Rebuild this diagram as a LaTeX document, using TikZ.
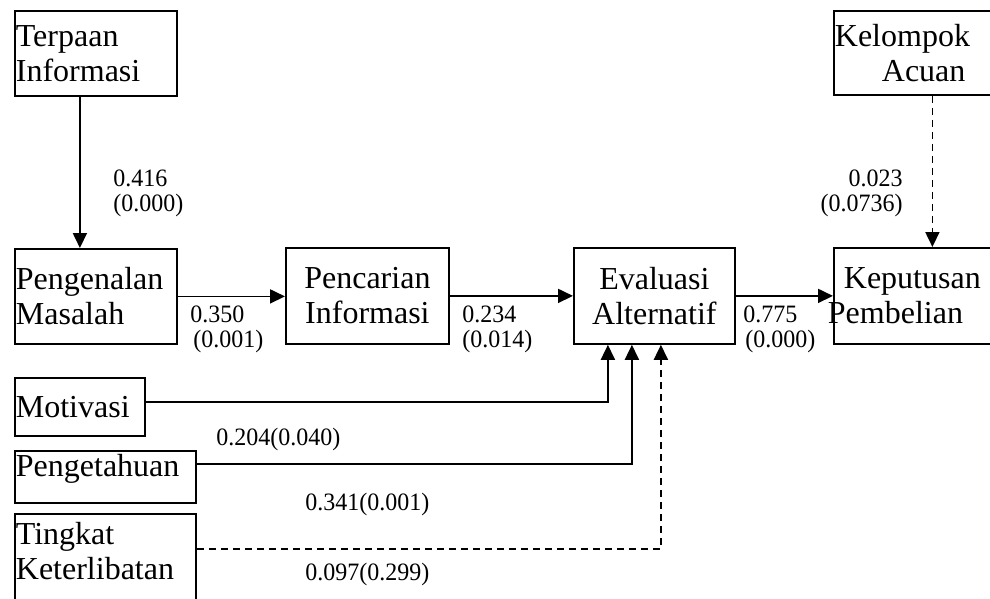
\documentclass[tikz,border=0pt]{standalone}
\usepackage{fontspec}
\newfontfamily\hurufkotak{Liberation Serif}
\newfontfamily\hurufangka[FakeStretch=0.96]{Liberation Serif}
\usepackage{tikz}
\usetikzlibrary{arrows.meta}

\begin{document}
\begin{tikzpicture}
[
    x = 0.5pt, y = -0.5pt,
    kotak/.style = {draw, line width = 0.9pt, anchor = north west, inner xsep = 0.5pt, inner ysep = 0pt, align = left, font = \hurufkotak\fontsize{16}{17.5}\selectfont},
    angka/.style = {anchor = north west, inner sep = 0pt, align = left, font = \hurufangka\fontsize{12.5}{12.5}\selectfont},
    panah/.style = {line width = 0.9pt, -{Triangle[length = 7.5pt, width = 7pt]}},
    putus/.style = {dash pattern = on 3.5pt off 2.5pt}]

\useasboundingbox (0,0) rectangle (990,599);

\node[kotak, text width = 80pt, minimum height = 42.5pt] (terpaan) at (14,10) {Terpaan\\Informasi};
\node[kotak, text width = 97.5pt, minimum height = 42pt] (kelompok) at (833,10) {Kelompok\\\hspace*{23.5pt}Acuan};
\node[kotak, text width = 80pt, minimum height = 47.5pt] (pengenalan) at (14,248) {Pengenalan\\Masalah};
\node[kotak, text width = 80.5pt, minimum height = 48pt, align = center] (pencarian) at (285,247) {Pencarian\\Informasi};
\node[kotak, text width = 79.5pt, minimum height = 48pt, align = center] (evaluasi) at (573,247) {Evaluasi\\Alternatif};
\node[kotak, text width = 97.5pt, minimum height = 48pt] (keputusan) at (833,247) {\hspace*{4.5pt}Keputusan\\\hspace*{-3.5pt}Pembelian};
\node[kotak, text width = 64pt, minimum height = 29pt] (motivasi) at (14,377) {Motivasi};
\node[kotak, text width = 89.5pt, minimum height = 26pt, text depth = 12pt] (pengetahuan) at (14,450) {Pengetahuan};
\node[kotak, text width = 89.5pt, minimum height = 51pt, text depth = 32pt] (tingkat) at (14,513) {Tingkat\\Keterlibatan};

\draw[panah] ([xshift = -8pt]terpaan.south) -- ([xshift = -8pt]pengenalan.north);
\draw[panah, putus] (kelompok.south) -- (keputusan.north);
\draw[panah] (pengenalan.east) -- (pengenalan.east -| pencarian.west);
\draw[panah] (pencarian.east) -- (evaluasi.west);
\draw[panah] (evaluasi.east) -- (keputusan.west);
\draw[panah] ([yshift = 2.5pt]motivasi.east) -| ([xshift = -23.25pt]evaluasi.south);
\draw[panah] ([yshift = 6.5pt]pengetahuan.east) -| ([xshift = -11.25pt]evaluasi.south);
\draw[panah, putus] ([yshift = 8pt]tingkat.east) -| ([xshift = 3.25pt]evaluasi.south);

\node[angka] (l416) at (113,169) {0.416\\(0.000)};
\node[angka, anchor = north east, align = right] (l023) at (903,169) {0.023\\(0.0736)};
\node[angka] (l350) at (190,305) {0.350\\\hspace*{1.5pt}(0.001)};
\node[angka] (l234) at (462,305) {0.234\\(0.014)};
\node[angka] (l775) at (743,305) {0.775\\\hspace*{1pt}(0.000)};
\node[angka] (l204) at (216,428) {0.204(0.040)};
\node[angka] (l341) at (305,493) {0.341(0.001)};
\node[angka] (l097) at (305,563) {0.097(0.299)};

\end{tikzpicture}
\end{document}
